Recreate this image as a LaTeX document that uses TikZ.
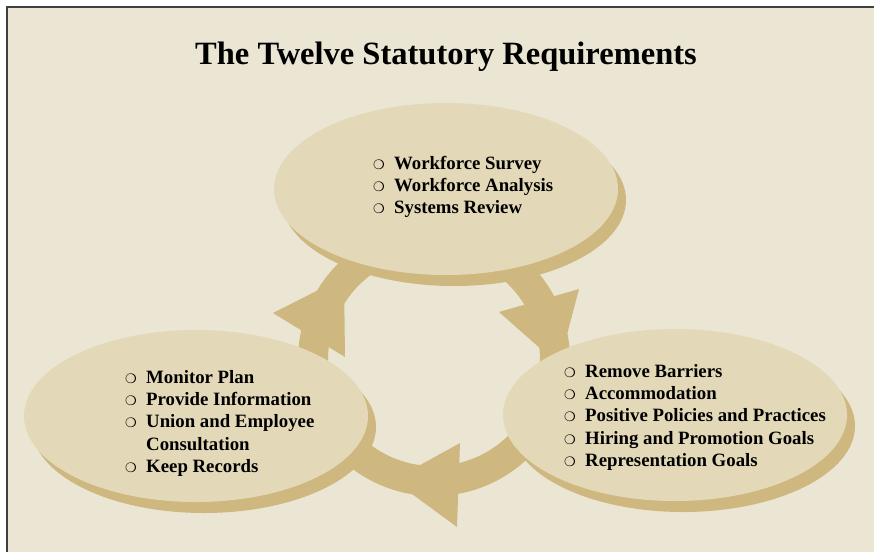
\documentclass[tikz,border=0pt]{standalone}
\usepackage{fontspec}
\setmainfont{Liberation Serif}
\newfontfamily\symfont{DejaVu Sans}
\usepackage{xcolor}
\usepackage{tikz}
\usetikzlibrary{positioning,shapes.geometric,shadows}
\definecolor{paper}{RGB}{235,230,211}
\definecolor{bubblefill}{RGB}{227,217,184}
\definecolor{ringtan}{RGB}{206,184,128}
% hollow bullet in a fixed-width box
\newcommand{\itm}{\makebox[21pt][l]{\symfont\fontsize{13}{13}\selectfont ❍}}

\begin{document}
\begin{tikzpicture}[x=1pt, y=-1pt,
        bubble/.style={ellipse, fill=bubblefill, inner sep=0pt,
                       minimum width=344pt, minimum height=172pt,
                       drop shadow={shadow xshift=8pt, shadow yshift=-11pt,
                                    fill=ringtan, opacity=1}},
        items/.style={anchor=base west, inner sep=0pt,
                      font=\fontsize{18.8}{22.4}\selectfont\bfseries},
        head/.style={fill=ringtan}
      ]
        \useasboundingbox (0,0) rectangle (874,552);
        \fill[white] (0,0) rectangle (874,552);
        \fill[paper] (7,7) rectangle (874,552);
        \draw[black!75, line width=1.2pt] (874,7) -- (7,7) -- (7,552);
        \node[anchor=base, font=\fontsize{32.5}{36}\selectfont\bfseries]
              at (446,64) (title) {The Twelve Statutory Requirements};
        % cycle ring with three arrow heads
        \coordinate (hub) at (434,360);
        \draw[ringtan, line width=30pt] (hub) circle (121);
        \fill[head] (273,313) -- (345,357) -- (344,277) -- cycle;
        \fill[head] (499,312) -- (579,289) -- (559,365) -- cycle;
        \fill[head] (460,443) -- (457,527) -- (393,480) -- cycle;
        % the three groups
        \node[bubble] at (446,189) (survey) {};
        \node[bubble] at (675,415) (barriers) {};
        \node[bubble] at (196,416) (monitor) {};
        \node[items] at (373,169) (surveytxt) {\begin{tabular}[t]{@{}l@{}}
            \itm Workforce Survey\\
            \itm Workforce Analysis\\
            \itm Systems Review
          \end{tabular}};
        \node[items] at (564,377) (barrierstxt) {\begin{tabular}[t]{@{}l@{}}
            \itm Remove Barriers\\
            \itm Accommodation\\
            \itm Positive Policies and Practices\\
            \itm Hiring and Promotion Goals\\
            \itm Representation Goals
          \end{tabular}};
        \node[items] at (125,383) (monitortxt) {\begin{tabular}[t]{@{}l@{}}
            \itm Monitor Plan\\
            \itm Provide Information\\
            \itm Union and Employee\\
            \hspace*{21pt}Consultation\\
            \itm Keep Records
          \end{tabular}};
      \end{tikzpicture}
\end{document}
